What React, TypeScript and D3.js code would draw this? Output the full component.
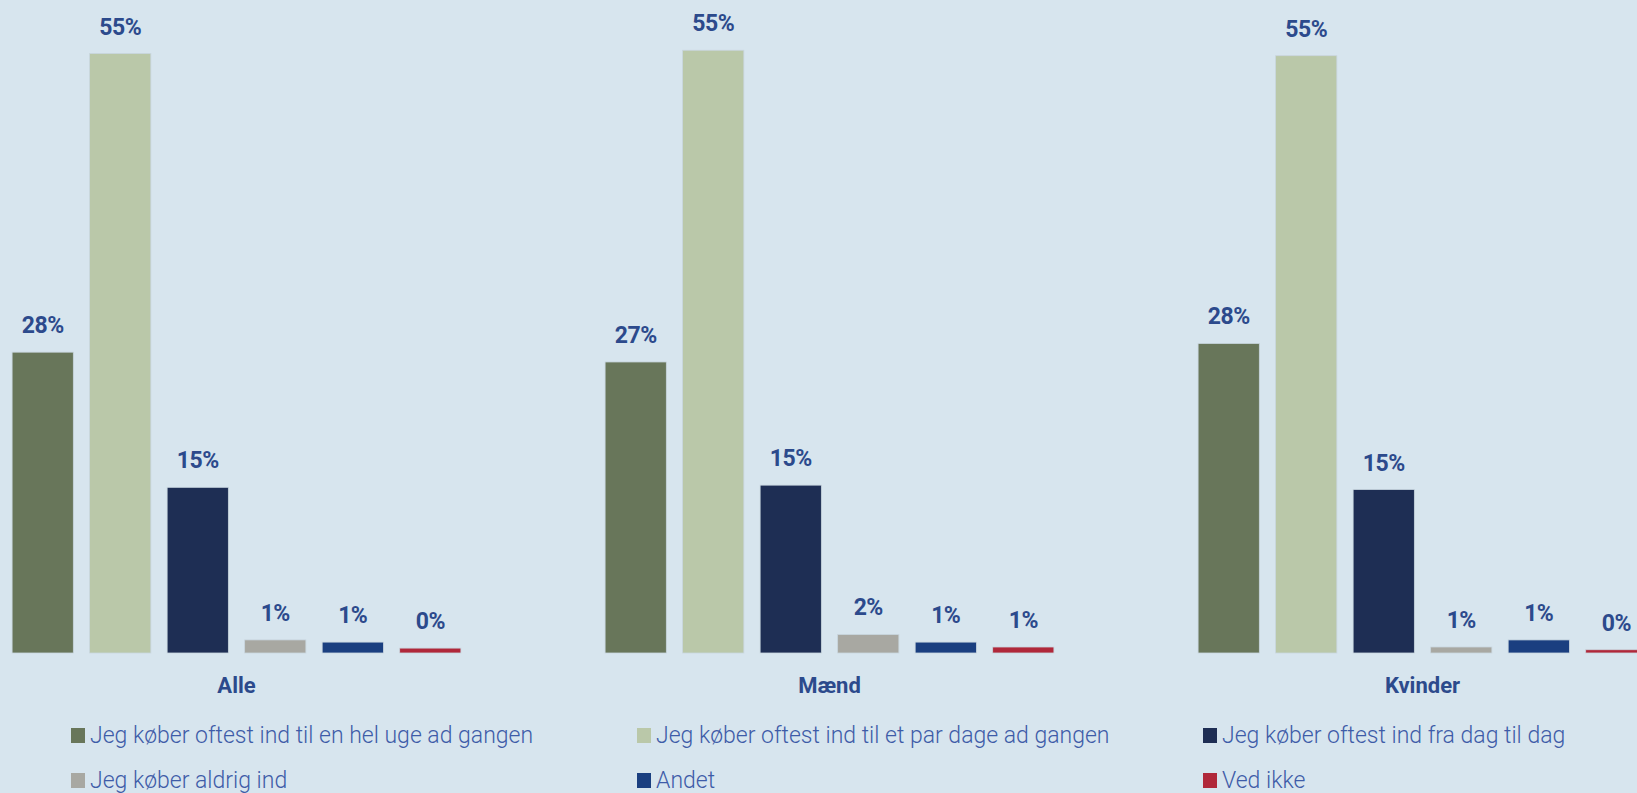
import { scaleBand, scaleLinear } from "d3";

const groups = ["Alle", "Mænd", "Kvinder"];
const answers = [
	"Jeg køber oftest ind til en hel uge ad gangen",
	"Jeg køber oftest ind til et par dage ad gangen",
	"Jeg køber oftest ind fra dag til dag",
	"Jeg køber aldrig ind",
	"Andet",
	"Ved ikke",
];
const colors = ["#68765a", "#bac8a9", "#1e2e54", "#a8a8a2", "#1a3f80", "#b0283a"];

// values per group, in answer order
const alle = [27.6, 55.0, 15.2, 1.2, 1.0, 0.45];
const maend = [26.7, 55.3, 15.4, 1.7, 1.0, 0.55];
const kvinder = [28.4, 54.8, 15.0, 0.55, 1.2, 0.3];
const values = [alle, maend, kvinder];

const W = 1637;
const H = 793;
const baseY = 653;

const BG = "#d7e5ee";
const LABEL = "#2c4a8c";
const LEGEND_TEXT = "#3e5ca8";

export default function App() {
	const x0 = scaleBand<string>().domain(groups).range([-60, 1719]);
	const x1 = scaleBand<string>()
		.domain(answers)
		.range([0, x0.bandwidth()])
		.paddingInner(0.21)
		.paddingOuter(0.93);
	const y = scaleLinear().domain([0, 55]).range([baseY, 53.5]);

	const legendX = scaleBand<number>().domain([0, 1, 2]).range([71, 71 + 3 * 566]);

	return (
		<div style={{ position: "fixed", left: 0, top: 0 }}>
			<svg width={W} height={H} style={{ display: "block" }}>
				<rect width={W} height={H} fill={BG} />
				{groups.map((g, gi) => (
					<g key={g} transform={`translate(${x0(g)},0)`}>
						{answers.map((a, i) => {
							const v = values[gi][i];
							const bx = x1(a) ?? 0;
							return (
								<g key={a}>
									<rect
										x={bx}
										y={y(v)}
										width={x1.bandwidth()}
										height={baseY - y(v)}
										fill={colors[i]}
										stroke="#c9d6df"
										strokeWidth={0.8}
									/>
									<text
										x={bx + x1.bandwidth() / 2}
										y={y(v) - 19}
										textAnchor="middle"
										fontFamily="Roboto, sans-serif"
										fontWeight="bold"
										fontSize={23}
										letterSpacing={-0.5}
										fill={LABEL}
									>
										{Math.round(v)}%
									</text>
								</g>
							);
						})}
						<text
							x={x0.bandwidth() / 2}
							y={baseY + 40}
							textAnchor="middle"
							fontFamily="Roboto, sans-serif"
							fontWeight="bold"
							fontSize={22}
							fill={LABEL}
						>
							{g}
						</text>
					</g>
				))}
				{answers.map((a, i) => {
					const col = i % 3;
					const row = Math.floor(i / 3);
					const lx = legendX(col) ?? 0;
					const ly = 743 + row * 45;
					return (
						<g key={a}>
							<rect x={lx} y={ly - 15} width={14} height={15} fill={colors[i]} />
							<text
								x={lx + 19}
								y={ly}
								fontFamily="Roboto, sans-serif"
								fontWeight={300}
								fontSize={23}
								fill={LEGEND_TEXT}
							>
								{a}
							</text>
						</g>
					);
				})}
			</svg>
		</div>
	);
}
